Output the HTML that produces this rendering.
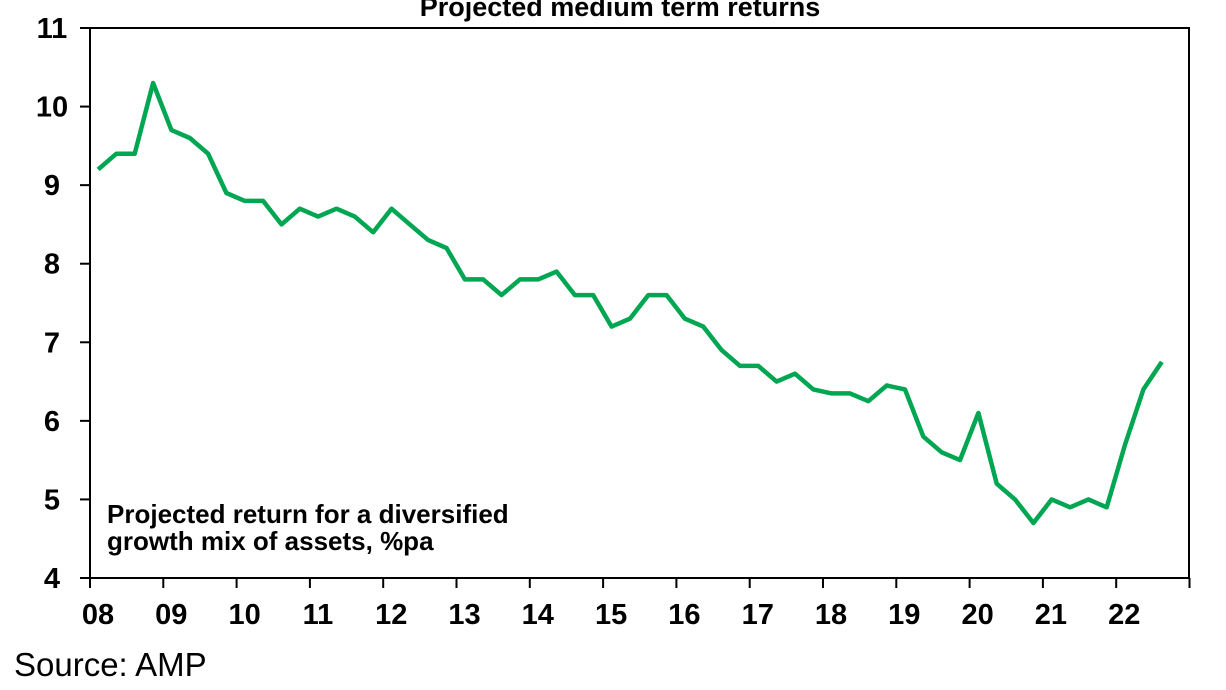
<!DOCTYPE html>
<html><head><meta charset="utf-8"><style>
html,body{margin:0;padding:0;background:#fff;}
svg{display:block;font-family:"Liberation Sans",Arial,sans-serif;}
</style></head><body>
<svg id="chart" width="1226" height="690">
<text x="620" y="16" text-anchor="middle" font-size="27" font-weight="bold">Projected medium term returns</text>
<rect x="90" y="28" width="1099" height="550" fill="none" stroke="#000" stroke-width="2"/>
<g id="yaxis"></g>
<g id="xaxis"></g>
<path id="line" fill="none" stroke="#00a651" stroke-width="4.5" stroke-linejoin="round"/>
<text x="107" y="523" font-size="26" font-weight="bold"><tspan x="107">Projected return for a diversified</tspan><tspan x="107" dy="27">growth mix of assets, %pa</tspan></text>
<text x="14" y="676" font-size="33">Source: AMP</text>
</svg>
<script>
const yTicks=[4,5,6,7,8,9,10,11];
const xTickLabels=["08","09","10","11","12","13","14","15","16","17","18","19","20","21","22"];
const startYear=8.11;
const stepYear=0.2502;
const values=[9.2,9.4,9.4,10.3,9.7,9.6,9.4,8.9,8.8,8.8,8.5,8.7,8.6,8.7,8.6,8.4,8.7,8.5,8.3,8.2,7.8,7.8,7.6,7.8,7.8,7.9,7.6,7.6,7.2,7.3,7.6,7.6,7.3,7.2,6.9,6.7,6.7,6.5,6.6,6.4,6.35,6.35,6.25,6.45,6.4,5.8,5.6,5.5,6.1,5.2,5.0,4.7,5.0,4.9,5.0,4.9,5.7,6.4,6.75];
const NS="http://www.w3.org/2000/svg";
const y=v=>578-(v-4)*(550/7);
const x=t=>90+(t-8)*73.3;
const ya=document.getElementById('yaxis'),xa=document.getElementById('xaxis');
yTicks.forEach(v=>{
 const l=document.createElementNS(NS,'line');
 l.setAttribute('x1',80);l.setAttribute('x2',90);l.setAttribute('y1',y(v));l.setAttribute('y2',y(v));l.setAttribute('stroke','#000');l.setAttribute('stroke-width',2);
 
 
 ya.appendChild(l);
 const t=document.createElementNS(NS,'text');
 t.setAttribute('x',52);t.setAttribute('y',y(v)+10);t.setAttribute('text-anchor','middle');t.setAttribute('font-size',29);t.setAttribute('font-weight','bold');
 t.textContent=v;
 
 
 ya.appendChild(t);
});
for(let i=0;i<=xTickLabels.length;i++){
 const px=x(8+i);
 const l=document.createElementNS(NS,'line');
 l.setAttribute('x1',px);l.setAttribute('x2',px);l.setAttribute('y1',578);l.setAttribute('y2',588);l.setAttribute('stroke','#000');l.setAttribute('stroke-width',2);
 
 
 xa.appendChild(l);
 if(i<xTickLabels.length){
 const t=document.createElementNS(NS,'text');
 t.setAttribute('x',px+8);t.setAttribute('y',624);t.setAttribute('text-anchor','middle');t.setAttribute('font-size',29);t.setAttribute('font-weight','bold');
 t.textContent=xTickLabels[i];
 
 
 xa.appendChild(t);
 }
}
document.getElementById('line').setAttribute('d',values.map((v,i)=>(i?'L':'M')+x(startYear+i*stepYear).toFixed(1)+','+y(v).toFixed(1)).join(' '));
</script>
</body></html>
